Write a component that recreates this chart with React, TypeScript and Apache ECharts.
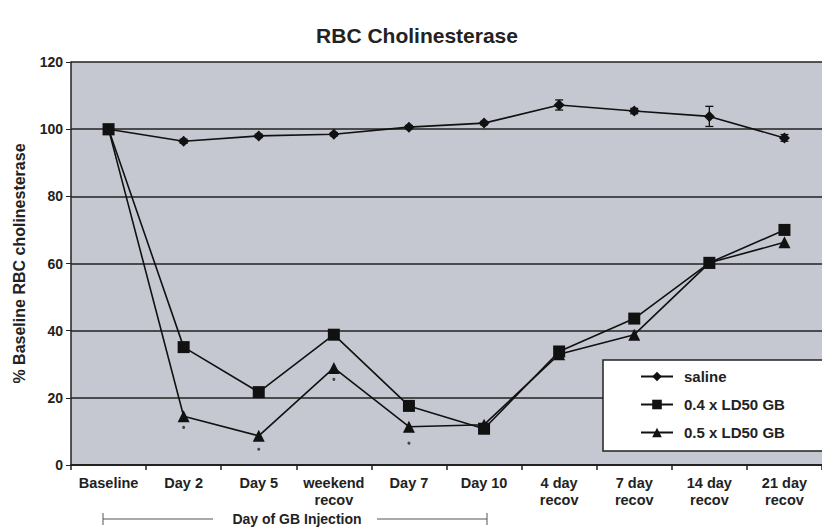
import React, { useEffect, useRef } from "react";
import * as echarts from "echarts";

const categories = ["Baseline", "Day 2", "Day 5", "weekend\nrecov", "Day 7", "Day 10", "4 day\nrecov", "7 day\nrecov", "14 day\nrecov", "21 day\nrecov"];
const saline = [100, 96.4, 98, 98.5, 100.6, 101.8, 107.2, 105.4, 103.8, 97.4];
const salineErr = [0, 0.6, 0.5, 0.5, 0.5, 0.5, 1.5, 0.8, 3, 1];
const ld04 = [100, 35.1, 21.7, 38.8, 17.6, 10.8, 33.8, 43.6, 60.2, 70];
const ld05 = [100, 14.5, 8.7, 28.9, 11.4, 12, 33, 38.8, 60.2, 66.3];
const sigMarks: [number, number][] = [[1, 11.2], [2, 4.7], [3, 25.5], [4, 6.5]];
const yTicks = { min: 0, max: 120, interval: 20 };

const FONT = "Liberation Sans, Arial, sans-serif";

export default function App() {
  const ref = useRef<HTMLDivElement>(null);
  useEffect(() => {
    if (!ref.current) return;
    const chart = echarts.init(ref.current, undefined, { renderer: "svg" });
    const lineBase = {
      type: "line",
      lineStyle: { color: "#111", width: 1.6 },
      itemStyle: { color: "#111" },
      z: 3,
    };
    chart.setOption({
      animation: false,
      backgroundColor: "#ffffff",
      textStyle: { fontFamily: FONT },
      title: {
        text: "RBC Cholinesterase",
        left: 412,
        textAlign: "center",
        top: 20,
        textStyle: { fontFamily: FONT, fontSize: 21, fontWeight: "bold", color: "#222" },
      },
      legend: {
        orient: "vertical",
        left: 603,
        top: 360,
        backgroundColor: "#ffffff",
        borderColor: "#222",
        borderWidth: 1.5,
        borderRadius: 0,
        padding: [9, 140, 11, 37],
        itemGap: 13,
        itemWidth: 32,
        itemHeight: 12,
        data: ["saline", "0.4 x LD50 GB", "0.5 x LD50 GB"],
        textStyle: { fontFamily: FONT, fontSize: 15, fontWeight: "bold", color: "#222", padding: [0, 0, 0, 6] },
      },
      grid: {
        left: 71,
        top: 62,
        width: 760,
        height: 403,
        show: true,
        backgroundColor: "#c5c8d0",
        borderWidth: 0,
      },
      xAxis: {
        type: "category",
        data: categories,
        boundaryGap: true,
        axisLine: { show: true, lineStyle: { color: "#222", width: 2 } },
        axisTick: { show: true, alignWithLabel: false, length: 5, lineStyle: { color: "#222", width: 1.5 } },
        axisLabel: {
          interval: 0,
          margin: 9,
          fontFamily: FONT,
          fontSize: 14.5,
          fontWeight: "bold",
          color: "#222",
          lineHeight: 17,
        },
        splitLine: { show: false },
      },
      yAxis: {
        type: "value",
        min: yTicks.min,
        max: yTicks.max,
        interval: yTicks.interval,
        name: "% Baseline RBC cholinesterase",
        nameLocation: "middle",
        nameGap: 44,
        nameTextStyle: { fontFamily: FONT, fontSize: 16, fontWeight: "bold", color: "#222" },
        axisLine: { show: true, lineStyle: { color: "#222", width: 1.5 } },
        axisTick: { show: true, length: 5, lineStyle: { color: "#222" } },
        axisLabel: { fontFamily: FONT, fontSize: 14, fontWeight: "bold", color: "#222", margin: 8 },
        splitLine: { show: true, lineStyle: { color: "#222", width: 1.6 } },
      },
      graphic: [
        { type: "line", shape: { x1: 103, y1: 519, x2: 213, y2: 519 }, style: { stroke: "#555", lineWidth: 1 } },
        { type: "line", shape: { x1: 103, y1: 513, x2: 103, y2: 525 }, style: { stroke: "#555", lineWidth: 1 } },
        { type: "text", x: 297, y: 519, style: { text: "Day of GB Injection", font: "bold 14px " + FONT, fill: "#222", textAlign: "center", textVerticalAlign: "middle" } },
        { type: "line", shape: { x1: 377, y1: 519, x2: 487, y2: 519 }, style: { stroke: "#555", lineWidth: 1 } },
        { type: "line", shape: { x1: 487, y1: 513, x2: 487, y2: 525 }, style: { stroke: "#555", lineWidth: 1 } },
      ],
      series: [
        {
          ...lineBase,
          name: "saline",
          data: saline,
          symbol: "diamond",
          symbolSize: 11,
        },
        {
          ...lineBase,
          name: "0.4 x LD50 GB",
          data: ld04,
          symbol: "rect",
          symbolSize: 12,
        },
        {
          ...lineBase,
          name: "0.5 x LD50 GB",
          data: ld05,
          symbol: "triangle",
          symbolSize: 12,
        },
        {
          type: "custom",
          name: "salineErr",
          z: 2,
          data: saline.map((v, i) => [i, v - salineErr[i], v + salineErr[i]]),
          renderItem: (params: any, api: any) => {
            const lo = api.coord([api.value(0), api.value(1)]);
            const hi = api.coord([api.value(0), api.value(2)]);
            const w = 4;
            const st = { stroke: "#111", lineWidth: 1.3 };
            return {
              type: "group",
              children: [
                { type: "line", shape: { x1: lo[0], y1: lo[1], x2: hi[0], y2: hi[1] }, style: st },
                { type: "line", shape: { x1: lo[0] - w, y1: lo[1], x2: lo[0] + w, y2: lo[1] }, style: st },
                { type: "line", shape: { x1: hi[0] - w, y1: hi[1], x2: hi[0] + w, y2: hi[1] }, style: st },
              ],
            };
          },
        },
        {
          type: "scatter",
          name: "sig",
          data: sigMarks,
          symbol: "circle",
          symbolSize: 3,
          itemStyle: { color: "#222" },
        },
      ],
    });
    return () => chart.dispose();
  }, []);
  return <div ref={ref} style={{ position: "absolute", left: 0, top: 0, width: 822, height: 527 }} />;
}
